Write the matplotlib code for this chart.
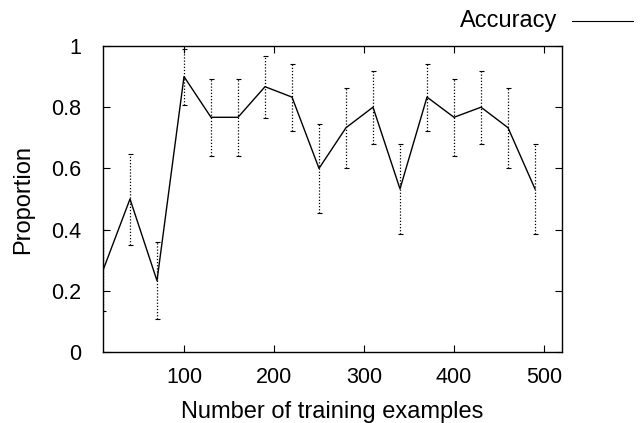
import matplotlib
matplotlib.use("Agg")
from matplotlib import pyplot as plt
from matplotlib.lines import Line2D
import numpy as np

plt.rcParams['font.family'] = ['Liberation Sans', 'DejaVu Sans']

# training set sizes and accuracy with error bar ends
n_examples = [10, 40, 70, 100, 130, 160, 190, 220, 250, 280, 310, 340, 370, 400, 430, 460, 490]
accuracy = [0.267, 0.5, 0.233, 0.9, 0.767, 0.767, 0.867, 0.833, 0.6, 0.733, 0.8, 0.533, 0.833, 0.767, 0.8, 0.733, 0.533]
err_low = [0.133, 0.35, 0.108, 0.808, 0.639, 0.639, 0.764, 0.721, 0.454, 0.601, 0.68, 0.384, 0.721, 0.639, 0.68, 0.601, 0.384]
err_high = [0.4, 0.648, 0.359, 0.989, 0.891, 0.891, 0.967, 0.942, 0.744, 0.864, 0.917, 0.681, 0.942, 0.891, 0.917, 0.864, 0.681]

x = np.array(n_examples)
y = np.array(accuracy)
yerr = [y - np.array(err_low), np.array(err_high) - y]

fig = plt.figure(figsize=(6.42, 4.23), dpi=100)
ax = fig.add_axes([103/642, 1 - 352/423, (562-103)/642, (352-46)/423])

eb = ax.errorbar(x, y, yerr=yerr, fmt='none', ecolor='black', elinewidth=0.9,
                 capsize=1.8, capthick=0.8)
eb[2][0].set_linestyle((0, (1, 1.5)))
ax.plot(x, y, color='black', lw=1.0)

ax.set_xlim(10, 520)
ax.set_ylim(0, 1)
ax.set_xticks([100, 200, 300, 400, 500])
ax.set_yticks([0, 0.2, 0.4, 0.6, 0.8, 1])
ax.set_yticklabels(['0', '0.2', '0.4', '0.6', '0.8', '1'])
ax.tick_params(direction='in', length=5, width=0.8, top=True, right=True,
               labelsize=15.5)
ax.tick_params(axis='x', pad=11)
ax.tick_params(axis='y', pad=16)
for s in ax.spines.values():
    s.set_linewidth(1.0)

ax.set_xlabel('Number of training examples', fontsize=17, labelpad=9)
ax.set_ylabel('Proportion', fontsize=17, labelpad=12)

# key outside the plot, top right
fig.text(557/642, 1 - 21/423, 'Accuracy', ha='right', va='center', fontsize=17)
fig.add_artist(Line2D([572/642, 633/642], [1 - 21/423, 1 - 21/423],
                      color='black', lw=0.8, transform=fig.transFigure))

fig.savefig('out.png', dpi=100)
